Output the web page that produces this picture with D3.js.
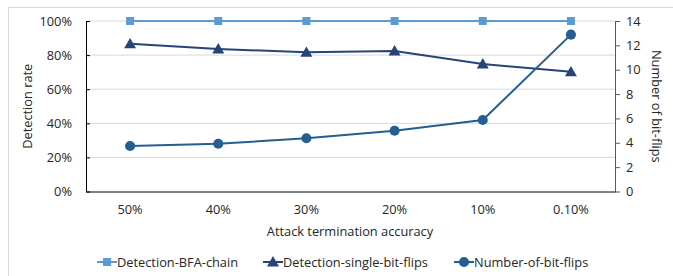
<!DOCTYPE html>
<html>
<head>
<meta charset="utf-8">
<script src="https://cdn.jsdelivr.net/npm/d3@7"></script>
<style>
  body { margin: 0; background: white; }
  text { font-family: "Open Sans", "Liberation Sans", sans-serif; fill: #262626; }
</style>
</head>
<body>
<div id="chart"></div>
<script>
// data
var categories = ["50%", "40%", "30%", "20%", "10%", "0.10%"];
var bfaChain = [1, 1, 1, 1, 1, 1];
var singleBitFlips = [0.866, 0.836, 0.816, 0.824, 0.748, 0.702];
var numBitFlips = [3.74, 3.92, 4.37, 4.99, 5.87, 12.88];
var leftTicks = [0, 0.2, 0.4, 0.6, 0.8, 1];
var rightTicks = [0, 2, 4, 6, 8, 10, 12, 14];

var W = 673, H = 276;
var mLeft = 86, mRight = 615, mTop = 21, mBottom = 191.5;
var fontSize = "12.8px";

var svg = d3.select("#chart").append("svg")
    .attr("width", W)
    .attr("height", H);

// outer chart border (cropped on the right and bottom)
svg.append("path")
    .attr("d", "M8.5," + H + " V7.5 H" + W)
    .style("fill", "none")
    .style("stroke", "#d9d9d9");

var x = d3.scaleBand().domain(categories).range([mLeft, mRight]);
var yL = d3.scaleLinear().domain([0, 1]).range([mBottom, mTop]);
var yR = d3.scaleLinear().domain([0, 14]).range([mBottom, mTop]);

// gridlines
svg.selectAll(".grid").data(leftTicks.slice(1))
  .enter().append("line")
    .attr("x1", mLeft).attr("x2", mRight)
    .attr("y1", function(d){ return yL(d); })
    .attr("y2", function(d){ return yL(d); })
    .style("stroke", "#d9d9d9")
    .style("stroke-width", 1);

// left axis
var gL = svg.append("g").attr("transform", "translate(" + mLeft + ",0)")
    .call(d3.axisLeft(yL).tickValues(leftTicks).tickFormat(d3.format(".0%")).tickSizeInner(-4).tickSizeOuter(0).tickPadding(14));
gL.select(".domain").style("stroke", "#000");
gL.selectAll(".tick line").style("stroke", "#000");
gL.selectAll("text").style("font-size", fontSize).style("fill", "#262626").attr("font-family", null);

// right axis
var gR = svg.append("g").attr("transform", "translate(" + mRight + ",0)")
    .call(d3.axisRight(yR).tickValues(rightTicks).tickSizeInner(5).tickSizeOuter(0).tickPadding(6));
gR.select(".domain").style("stroke", "#595959");
gR.selectAll(".tick line").style("stroke", "#595959");
gR.selectAll("text").style("font-size", fontSize).style("fill", "#262626").attr("font-family", null);

// bottom axis
var gB = svg.append("g").attr("transform", "translate(0," + mBottom + ")")
    .call(d3.axisBottom(x).tickSize(0).tickPadding(13));
gB.select(".domain").style("stroke", "#000");
gB.selectAll("text").style("font-size", fontSize).style("fill", "#262626").attr("font-family", null);

// axis titles
svg.append("text")
    .attr("x", 350).attr("y", 236)
    .attr("text-anchor", "middle")
    .style("font-size", fontSize)
    .text("Attack termination accuracy");

svg.append("text")
    .attr("transform", "translate(32," + ((mTop + mBottom) / 2) + ") rotate(-90)")
    .attr("text-anchor", "middle")
    .style("font-size", fontSize)
    .text("Detection rate");

svg.append("text")
    .attr("transform", "translate(652," + ((mTop + mBottom) / 2) + ") rotate(90)")
    .attr("text-anchor", "middle")
    .style("font-size", fontSize)
    .text("Number of bit-flips");

var cx = function(d, i){ return x(categories[i]) + x.bandwidth() / 2; };

var series = [
  { name: "Detection-BFA-chain", values: bfaChain, scale: yL, color: "#5b9bd5", marker: "square" },
  { name: "Detection-single-bit-flips", values: singleBitFlips, scale: yL, color: "#264478", marker: "triangle" },
  { name: "Number-of-bit-flips", values: numBitFlips, scale: yR, color: "#255e91", marker: "circle" }
];

var symbols = { square: d3.symbolSquare, triangle: d3.symbolTriangle, circle: d3.symbolCircle };
var sizes = { square: 64, triangle: 62, circle: 80 };

series.forEach(function(s){
  var line = d3.line()
      .x(cx)
      .y(function(d){ return s.scale(d); });
  svg.append("path")
      .datum(s.values)
      .attr("d", line)
      .style("fill", "none")
      .style("stroke", s.color)
      .style("stroke-width", 2);
  svg.selectAll(null).data(s.values)
    .enter().append("path")
      .attr("d", d3.symbol().type(symbols[s.marker]).size(sizes[s.marker]))
      .attr("transform", function(d, i){
        var dy = s.marker == "triangle" ? 1 : 0;
        return "translate(" + cx(d, i) + "," + (s.scale(d) + dy) + ")";
      })
      .style("fill", s.color);
});

// legend
var legendX = [97, 263, 454];
series.forEach(function(s, i){
  var g = svg.append("g").attr("transform", "translate(" + legendX[i] + ",262)");
  g.append("line")
      .attr("x1", 0).attr("x2", 20)
      .style("stroke", s.color)
      .style("stroke-width", 2);
  g.append("path")
      .attr("d", d3.symbol().type(symbols[s.marker]).size(sizes[s.marker]))
      .attr("transform", "translate(10," + (s.marker == "triangle" ? 1 : 0) + ")")
      .style("fill", s.color);
  g.append("text")
      .attr("x", 20).attr("y", 4.5)
      .style("font-size", fontSize)
      .text(s.name);
});
</script>
</body>
</html>
